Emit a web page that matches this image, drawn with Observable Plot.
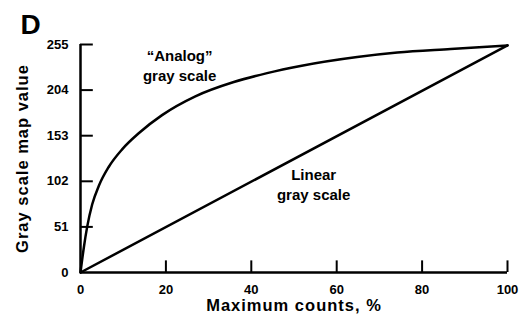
<!DOCTYPE html>
<html><head><meta charset="utf-8">
<script src="https://cdn.jsdelivr.net/npm/d3@7"></script>
<script src="https://cdn.jsdelivr.net/npm/@observablehq/plot@0.6"></script>
<style>body{margin:0;background:#fff}#c{position:relative;width:523px;height:322px}</style>
</head><body><div id="c"></div>
<script>
const analogX = [0, 0.78, 1.56, 2.73, 4.3, 6.6, 9.8, 13.7, 19.1, 26.9, 35.9, 43.7, 51.5, 64.8, 74.2, 86.7, 100];
const analogY = [0, 28, 51, 76, 97, 118, 138, 156, 176, 197, 213, 223, 231, 241, 246, 250, 254];
const linearX = [0, 100];
const linearY = [0, 254];
const xTicks = [0, 20, 40, 60, 80, 100];
const yTicks = [0, 51, 102, 153, 204, 255];

const analog = analogX.map((x, i) => ({x, y: analogY[i]}));
const linear = linearX.map((x, i) => ({x, y: linearY[i]}));
const font = "Liberation Sans, Arial, Helvetica, sans-serif";

const chart = Plot.plot({
  width: 523, height: 322,
  marginLeft: 80, marginRight: 16, marginTop: 44, marginBottom: 50,
  style: {fontFamily: font, color: "#000", background: "#fff"},
  x: {domain: [0, 100]},
  y: {domain: [0, 255]},
  marks: [
    Plot.axisX({ticks: xTicks, tickSize: 0, tickPadding: 12, fontSize: 13, fontWeight: "bold", label: null}),
    Plot.axisY({ticks: yTicks, tickSize: 0, tickPadding: 12, fontSize: 13, fontWeight: "bold", label: null}),
    Plot.ruleX(xTicks.slice(1), {x: d => d, y1: 0, y2: 13, stroke: "#000", strokeWidth: 2}),
    Plot.ruleY(yTicks.slice(1), {y: d => d, x1: 0, x2: 3, stroke: "#000", strokeWidth: 2}),
    Plot.ruleX([0], {stroke: "#000", strokeWidth: 2.5}),
    Plot.ruleY([0], {stroke: "#000", strokeWidth: 2.5}),
    Plot.line(analog, {x: "x", y: "y", stroke: "#000", strokeWidth: 2.5, curve: "monotone-x"}),
    Plot.line(linear, {x: "x", y: "y", stroke: "#000", strokeWidth: 2.5}),
    Plot.text(["\u201CAnalog\u201D\ngray scale"], {x: 23.2, y: 232, fontSize: 15, fontWeight: "bold", lineHeight: 1.33, fill: "#000"}),
    Plot.text(["Linear\ngray scale"], {x: 54.6, y: 99.5, fontSize: 15, fontWeight: "bold", lineHeight: 1.33, fill: "#000"}),
    Plot.text(["Maximum counts, %"], {frameAnchor: "bottom", dy: 38, fontSize: 16.5, fontWeight: "bold", fill: "#000"}),
    Plot.text(["Gray scale map value"], {frameAnchor: "left", dx: -58, rotate: -90, textAnchor: "middle", fontSize: 16.5, fontWeight: "bold", fill: "#000"}),
    Plot.text(["D"], {frameAnchor: "top-left", dx: -60, dy: -30, fontSize: 28, fontWeight: "bold", textAnchor: "start", fill: "#000"})
  ]
});
// widen the axis titles' letter spacing to match the reference
d3.select(chart).selectAll("text").filter(function() {
  const t = this.textContent;
  return t === "Maximum counts, %" || t === "Gray scale map value";
}).attr("letter-spacing", "1px");
document.getElementById("c").appendChild(chart);
</script>
</body></html>
